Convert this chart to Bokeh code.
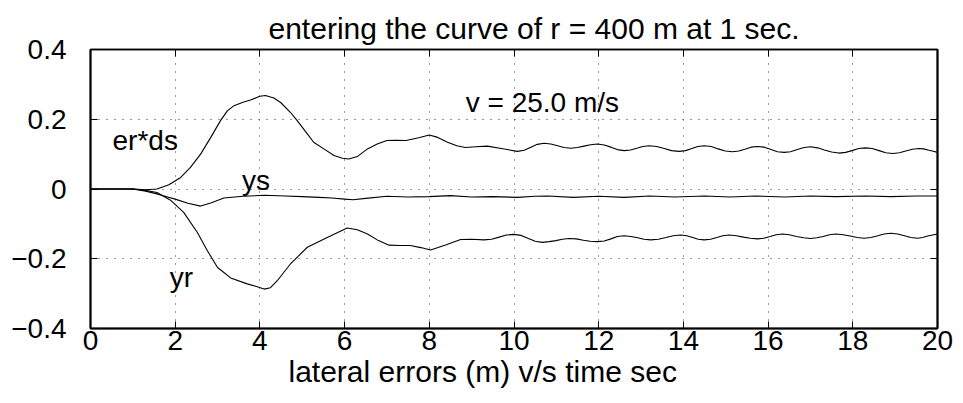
from bokeh.plotting import figure
from bokeh.models import Range1d, FixedTicker, LinearAxis, Label, Title
from bokeh.embed import file_html
from bokeh.resources import INLINE

# ---- data ----
er_t = [0, 0.5, 1.0, 1.3, 1.57, 1.85, 2.13, 2.36, 2.6, 2.84, 3.07, 3.23, 3.39, 3.6, 3.78, 4.0, 4.13,
        4.33, 4.49, 4.72, 4.88, 5.12, 5.27, 5.51, 5.75, 5.95, 6.1, 6.3, 6.54, 6.77, 7.0, 7.2, 7.45,
        7.75, 8.0, 8.2, 8.43, 8.65, 8.85, 9.1, 9.37, 9.7, 10.08,
        10.24, 10.40, 10.55, 10.71, 10.87, 11.03, 11.18, 11.34, 11.50, 11.65, 11.81, 11.97,
        12.13, 12.29, 12.44, 12.60, 12.75, 12.90, 13.04, 13.19, 13.37, 13.55, 13.72, 13.90,
        14.05, 14.20, 14.34, 14.49, 14.66, 14.82, 14.99, 15.16, 15.31, 15.45, 15.60, 15.75,
        15.91, 16.07, 16.22, 16.38, 16.53, 16.69, 16.85, 17.00, 17.17, 17.33, 17.50, 17.67,
        17.83, 17.98, 18.14, 18.30, 18.46, 18.62, 18.78, 18.94, 19.10, 19.25, 19.41, 19.56,
        19.67, 19.80, 19.90, 20.0]
er_y = [0, 0, 0, -0.002, 0.0, 0.012, 0.033, 0.062, 0.100, 0.148, 0.196, 0.224, 0.239, 0.249, 0.255,
        0.266, 0.268, 0.261, 0.248, 0.220, 0.196, 0.158, 0.134, 0.115, 0.096, 0.088, 0.086, 0.093,
        0.115, 0.129, 0.139, 0.140, 0.139, 0.147, 0.155, 0.148, 0.134, 0.124, 0.119, 0.121, 0.123,
        0.116, 0.108,
        0.111, 0.120, 0.128, 0.131, 0.129, 0.124, 0.119, 0.117, 0.119, 0.123, 0.127, 0.129,
        0.126, 0.120, 0.113, 0.110, 0.112, 0.117, 0.122, 0.124, 0.122, 0.116, 0.110, 0.108,
        0.110, 0.116, 0.122, 0.124, 0.122, 0.115, 0.109, 0.107, 0.109, 0.114, 0.120, 0.122,
        0.120, 0.113, 0.107, 0.105, 0.107, 0.113, 0.119, 0.121, 0.118, 0.112, 0.106, 0.103,
        0.105, 0.110, 0.116, 0.118, 0.116, 0.110, 0.104, 0.102, 0.104, 0.109, 0.114, 0.116,
        0.115, 0.111, 0.108, 0.105]

ys_t = [0, 0.5, 1.0, 1.3, 1.57, 1.8, 2.0, 2.3, 2.6, 2.84, 3.15, 3.6, 4.1, 4.6, 5.0, 5.4, 5.7, 6.0,
        6.2, 6.5, 7.0, 7.5, 8.0, 8.5, 9.0, 9.5, 10.07, 10.5, 10.8, 11.4, 12.0, 12.6, 13.2, 13.8,
        14.5, 15.1, 15.7, 16.4, 17.0, 17.6, 18.3, 18.9, 19.5, 20.0]
ys_y = [0, 0, 0, -0.006, -0.014, -0.022, -0.029, -0.041, -0.049, -0.040, -0.026, -0.021, -0.018,
        -0.020, -0.022, -0.024, -0.026, -0.029, -0.031, -0.027, -0.021, -0.023, -0.022, -0.019,
        -0.023, -0.022, -0.024, -0.021, -0.020, -0.024, -0.021, -0.024, -0.020, -0.023, -0.020,
        -0.023, -0.020, -0.023, -0.020, -0.022, -0.020, -0.022, -0.020, -0.020]

yr_t = [0, 0.5, 1.0, 1.3, 1.57, 1.89, 2.2, 2.52, 2.76, 3.0, 3.31, 3.7, 3.9, 4.1, 4.25, 4.41, 4.72,
        5.12, 5.59, 5.85, 6.06, 6.3, 6.54, 6.8, 7.05, 7.3, 7.55, 7.8, 8.03, 8.4, 8.74, 9.0, 9.29,
        9.47, 9.65, 9.82, 10.00, 10.17, 10.34, 10.50, 10.67, 10.83, 10.99, 11.14, 11.30,
        11.47, 11.64, 11.80, 11.97, 12.13, 12.29, 12.44, 12.60, 12.76, 12.92, 13.07, 13.23,
        13.41, 13.59, 13.76, 13.94, 14.08, 14.22, 14.35, 14.49, 14.64, 14.79, 14.93, 15.08,
        15.25, 15.42, 15.58, 15.75, 15.90, 16.05, 16.19, 16.34, 16.50, 16.67, 16.84, 17.00,
        17.15, 17.30, 17.45, 17.60, 17.77, 17.94, 18.10, 18.27, 18.43, 18.59, 18.74, 18.90,
        19.06, 19.22, 19.37, 19.53, 19.65, 19.77, 19.88, 20.0]
yr_y = [0, 0, 0, -0.004, -0.010, -0.032, -0.067, -0.124, -0.177, -0.225, -0.255, -0.272, -0.279,
        -0.287, -0.283, -0.263, -0.215, -0.167, -0.139, -0.124, -0.112, -0.117, -0.129, -0.148,
        -0.161, -0.162, -0.162, -0.168, -0.175, -0.160, -0.145, -0.144, -0.146,
        -0.144, -0.138, -0.132, -0.130, -0.133, -0.142, -0.150, -0.153, -0.151, -0.148, -0.144,
        -0.142, -0.143, -0.147, -0.150, -0.151, -0.149, -0.143, -0.136, -0.134, -0.136, -0.140,
        -0.144, -0.146, -0.144, -0.139, -0.134, -0.132, -0.134, -0.139, -0.144, -0.146, -0.144,
        -0.139, -0.134, -0.132, -0.134, -0.138, -0.141, -0.143, -0.141, -0.136, -0.131, -0.129,
        -0.131, -0.136, -0.140, -0.142, -0.140, -0.136, -0.131, -0.129, -0.131, -0.135, -0.139,
        -0.141, -0.139, -0.134, -0.129, -0.127, -0.129, -0.134, -0.139, -0.141, -0.139, -0.135,
        -0.132, -0.129]

x_ticks = [0, 2, 4, 6, 8, 10, 12, 14, 16, 18, 20]
y_ticks = [-0.4, -0.2, 0, 0.2, 0.4]
y_tick_labels = ["\u22120.4", "\u22120.2", "0", "0.2", "0.4"]

title_text = "entering the curve of r = 400 m at 1 sec."
xlabel_text = "lateral errors (m) v/s time sec"
speed_text = "v = 25.0 m/s"

FONT = "Liberation Sans"
FS = "28px"
FS_BIG = "30px"

p = figure(width=963, height=403, output_backend="svg", toolbar_location=None,
           x_range=Range1d(0, 20), y_range=Range1d(-0.4, 0.4),
           min_border_left=90, min_border_right=26, min_border_top=49, min_border_bottom=75,
           background_fill_color="white", border_fill_color="white")
p.outline_line_color = "black"
p.outline_line_width = 1.5

p.line(er_t, er_y, line_color="black", line_width=1.1)
p.line(ys_t, ys_y, line_color="black", line_width=1.1)
p.line(yr_t, yr_y, line_color="black", line_width=1.1)

# axes
for ax in p.xaxis:
    ax.ticker = FixedTicker(ticks=x_ticks)
    ax.major_label_text_font = FONT
    ax.major_label_text_font_size = FS
    ax.major_label_text_color = "black"
    ax.major_label_standoff = 2
for ax in p.yaxis:
    ax.ticker = FixedTicker(ticks=y_ticks)
    ax.major_label_overrides = {t: s for t, s in zip(y_ticks, y_tick_labels)}
    ax.major_label_text_font = FONT
    ax.major_label_text_font_size = FS
    ax.major_label_text_color = "black"
    ax.major_label_standoff = 24
for ax in list(p.xaxis) + list(p.yaxis):
    ax.axis_line_width = 2
    ax.axis_line_color = "black"
    ax.major_tick_in = 7
    ax.major_tick_out = 0
    ax.major_tick_line_color = "black"
    ax.minor_tick_in = 0
    ax.minor_tick_out = 0

top = LinearAxis(ticker=FixedTicker(ticks=x_ticks),
                 major_label_overrides={t: "" for t in x_ticks},
                 major_tick_in=7, major_tick_out=0, minor_tick_in=0, minor_tick_out=0,
                 major_label_standoff=0, axis_line_width=1.5)
right = LinearAxis(ticker=FixedTicker(ticks=y_ticks),
                   major_label_overrides={t: "" for t in y_ticks},
                   major_tick_in=7, major_tick_out=0, minor_tick_in=0, minor_tick_out=0,
                   major_label_standoff=0, axis_line_width=2)
p.add_layout(top, "above")
p.add_layout(right, "right")

# grid
for g in (p.xgrid, p.ygrid):
    g.grid_line_color = "black"
    g.grid_line_dash = "1 7"
    g.grid_line_width = 1
    g.grid_line_alpha = 0.8
p.xgrid.ticker = FixedTicker(ticks=x_ticks)
p.ygrid.ticker = FixedTicker(ticks=y_ticks)

# title and x-axis caption as Title panels
p.title.text = title_text
p.title.align = "left"
p.title.offset = 178
p.title.standoff = 10
p.title.text_font = FONT
p.title.text_font_size = FS_BIG
p.title.text_font_style = "normal"
p.title.text_color = "black"

p.add_layout(Title(text=xlabel_text, align="left", offset=198, standoff=0,
                   text_font=FONT, text_font_size=FS_BIG, text_font_style="normal",
                   text_color="black"), "below")

for txt, tx, ty in [(speed_text, 8.86, 0.248), ("er*ds", 0.52, 0.14), ("ys", 3.58, 0.024),
                    ("yr", 1.87, -0.255)]:
    p.add_layout(Label(x=tx, y=ty, text=txt, text_align="left", text_baseline="alphabetic",
                       text_font=FONT, text_font_size=FS, text_color="black"))

open("out.html", "w").write(file_html(p, INLINE))
